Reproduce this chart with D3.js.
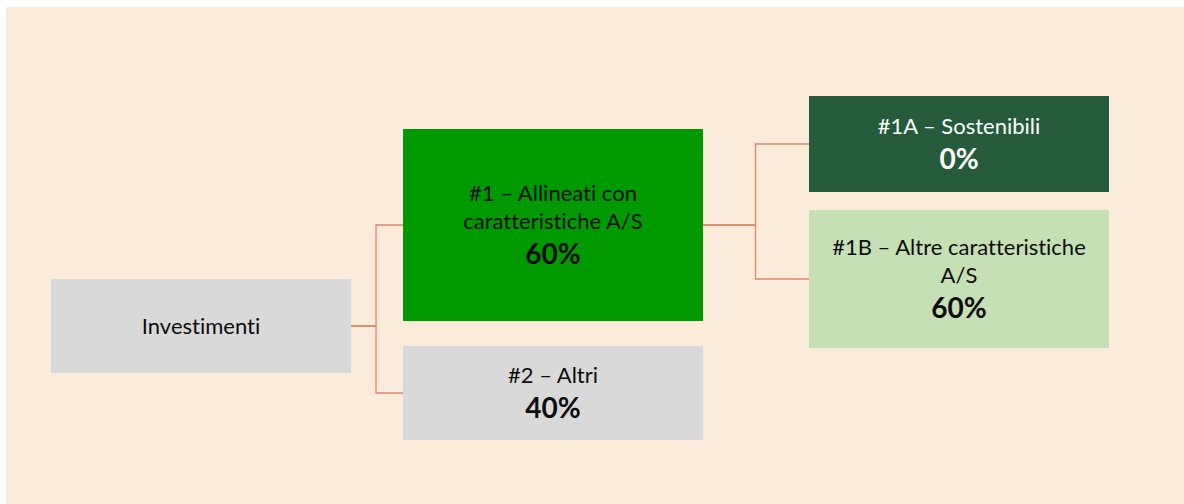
<!DOCTYPE html>
<html>
<head>
<meta charset="utf-8">
<script src="https://cdn.jsdelivr.net/npm/d3@7"></script>
<style>
    body { margin: 0; background: #fff; }
    svg { display: block; font-family: Lato, "Noto Sans", sans-serif; font-variant-ligatures: none; }
</style>
</head>
<body>
<svg id="chart"></svg>
<script>
// asset allocation tree
const ids = ['inv', 'n1', 'n2', 'n1a', 'n1b'];
const parents = [null, 'inv', 'inv', 'n1', 'n1'];
const titles = [
    ['Investimenti'],
    ['#1 – Allineati con', 'caratteristiche A/S'],
    ['#2 – Altri'],
    ['#1A – Sostenibili'],
    ['#1B – Altre caratteristiche', 'A/S'],
];
const shares = [null, 60, 40, 0, 60];
const levels = [0, 1, 1, 2, 2];

const fills = ['#d9d9d9', '#009900', '#d9d9d9', '#255b3b', '#c5e0b4'];
const inks = ['#0d0d0d', '#0d0d0d', '#0d0d0d', '#fff', '#0d0d0d'];

const width = 1184;
const height = 504;
const boxWidth = 300;
const colX = [51, 403, 809];
const boxTop = {inv: 279, n1: 129, n2: 346, n1a: 96, n1b: 210};
const boxHeight = {inv: 94, n1: 192, n2: 94, n1a: 96, n1b: 138};

const nodes = ids.map((id, i) => ({
    id,
    parent: parents[i],
    lines: titles[i],
    share: shares[i],
    level: levels[i],
    fill: fills[i],
    ink: inks[i],
}));
const byId = new Map(nodes.map(d => [d.id, d]));

const x = d3.scaleOrdinal().domain([0, 1, 2]).range(colX);

const svg = d3.select('#chart')
    .attr('width', width)
    .attr('height', height);

svg.append('rect')
    .attr('x', 6)
    .attr('y', 7)
    .attr('width', width - 6)
    .attr('height', height - 7)
    .attr('fill', '#faebdb');

const cy = d => boxTop[d.id] + boxHeight[d.id] / 2;

// elbow connectors
const links = nodes.filter(d => d.parent).map(d => ({source: byId.get(d.parent), target: d}));

svg.append('g')
    .selectAll('path')
    .data(links)
    .join('path')
    .attr('fill', 'none')
    .attr('stroke', '#e0876a')
    .attr('stroke-width', 1.3)
    .attr('d', (d) => {
        const x0 = x(d.source.level) + boxWidth;
        const x1 = x(d.target.level);
        const xm = d.source.level === 0 ? x0 + 25 : x0 + 52.5;
        return `M${x0},${cy(d.source)}H${xm}V${cy(d.target)}H${x1}`;
    });

const box = svg.append('g')
    .selectAll('g')
    .data(nodes)
    .join('g')
    .attr('transform', d => `translate(${x(d.level)}, ${boxTop[d.id]})`);

box.append('rect')
    .attr('width', boxWidth)
    .attr('height', d => boxHeight[d.id])
    .attr('fill', d => d.fill);

const lineGap = 28;
const pctGap = 35;

box.each(function(d) {
    const g = d3.select(this);
    const n = d.lines.length;
    const block = (n - 1) * lineGap + (d.share === null ? 0 : pctGap);
    const first = boxHeight[d.id] / 2 - block / 2 + 7.5;
    g.selectAll('text.title')
        .data(d.lines)
        .join('text')
        .attr('class', 'title')
        .attr('x', boxWidth / 2)
        .attr('y', (t, i) => first + i * lineGap)
        .attr('text-anchor', 'middle')
        .attr('fill', d.ink)
        .style('font-size', '22px')
        .text(t => t);
    if (d.share !== null) {
        g.append('text')
            .attr('x', boxWidth / 2)
            .attr('y', first + (n - 1) * lineGap + pctGap)
            .attr('text-anchor', 'middle')
            .attr('fill', d.ink)
            .style('font-size', '28px')
            .style('font-weight', 'bold')
            .text(`${d.share}%`);
    }
});
</script>
</body>
</html>
